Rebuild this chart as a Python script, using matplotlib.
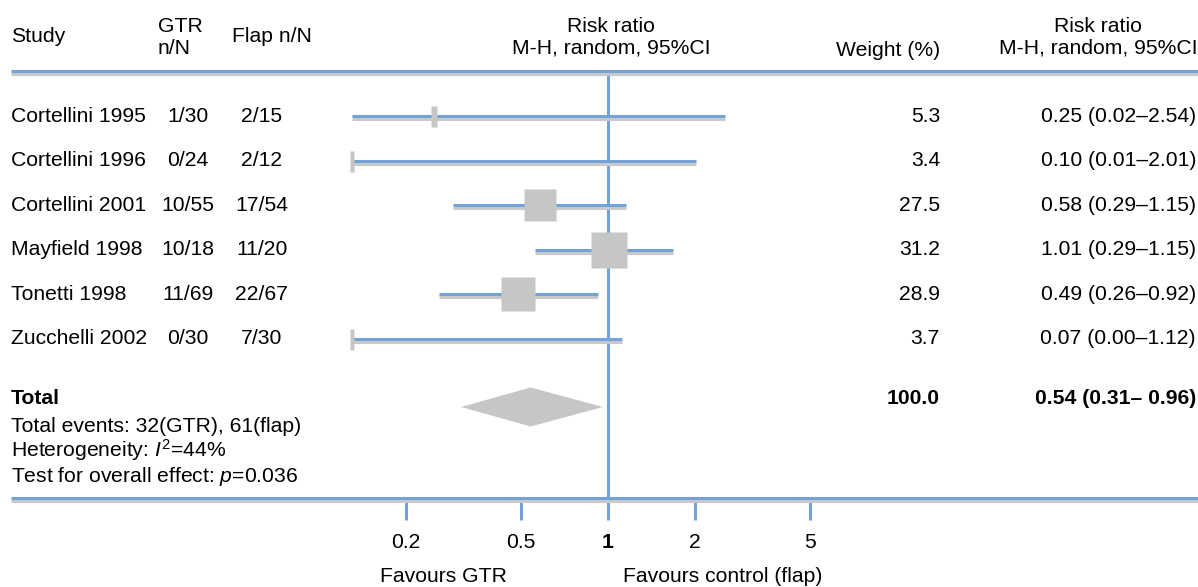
import numpy as np
import matplotlib
matplotlib.use("Agg")
import matplotlib.pyplot as plt
from matplotlib import transforms
from matplotlib.ticker import NullLocator

plt.rcParams['font.family'] = ['Liberation Sans', 'DejaVu Sans']
plt.rcParams['mathtext.fontset'] = 'custom'
plt.rcParams['mathtext.rm'] = 'Liberation Sans'
plt.rcParams['mathtext.it'] = 'Liberation Sans:italic'
plt.rcParams['mathtext.bf'] = 'Liberation Sans:bold'

# ---------------- data ----------------
studies = ["Cortellini 1995", "Cortellini 1996", "Cortellini 2001",
           "Mayfield 1998", "Tonetti 1998", "Zucchelli 2002"]
gtr_events = ["1/30", "0/24", "10/55", "10/18", "11/69", "0/30"]
flap_events = ["2/15", "2/12", "17/54", "11/20", "22/67", "7/30"]
risk_ratio = [0.25, 0.10, 0.58, 1.01, 0.49, 0.07]
ci_low = [0.02, 0.01, 0.29, 0.56, 0.26, 0.00]
ci_high = [2.54, 2.01, 1.15, 1.68, 0.92, 1.12]
weights = [5.3, 3.4, 27.5, 31.2, 28.9, 3.7]
rr_labels = ["0.25 (0.02\u20132.54)", "0.10 (0.01\u20132.01)", "0.58 (0.29\u20131.15)",
             "1.01 (0.29\u20131.15)", "0.49 (0.26\u20130.92)", "0.07 (0.00\u20131.12)"]
total_rr, total_low, total_high = 0.54, 0.31, 0.96
total_weight_label = "100.0"
total_rr_label = "0.54 (0.31\u2013 0.96)"
tick_values = [0.2, 0.5, 1, 2, 5]
tick_labels = ["0.2", "0.5", "1", "2", "5"]
display_min = 0.13   # lower CI clipped at plot edge

# ---------------- style / layout ----------------
W, H = 1198, 587
BLUE = "#72a2d8"
SHADOW = "#c9c9c9"
BOX = "#c5c6c6"
FS = 15.2
PX = 0.72  # points per pixel at 100 dpi
X_ONE = 608          # pixel position of RR = 1
PX_PER_DEC = 289     # pixels per decade
ROW0, ROW_STEP = 116, 44.6
TOP_RULE, BOT_RULE = 71, 498
TOTAL_Y, DIAMOND_Y = 398, 407

fig = plt.figure(figsize=(W / 100, H / 100), dpi=100)

ax = fig.add_axes([0, 0, 1, 1])
ax.set_xscale('log')
ax.set_xlim(10 ** (-X_ONE / PX_PER_DEC), 10 ** ((W - X_ONE) / PX_PER_DEC))
ax.set_ylim(H, 0)
ax.patch.set_visible(False)
for s in ['top', 'left', 'right', 'bottom']:
    ax.spines[s].set_visible(False)
ax.spines['bottom'].set_position(('data', BOT_RULE))
ax.set_yticks([])
ax.set_xticks(tick_values, tick_labels)
ax.xaxis.set_minor_locator(NullLocator())
ax.tick_params(axis='x', which='major', direction='out', length=22 * PX,
               width=2.2, color=BLUE, pad=9, labelsize=FS)
for lbl in ax.get_xticklabels():
    if lbl.get_text() == "1":
        lbl.set_fontweight('bold')

tx = fig.add_axes([0, 0, 1, 1])
tx.set_xlim(0, W)
tx.set_ylim(H, 0)
tx.axis('off')

shadow_ax = ax.transData + transforms.ScaledTranslation(0, -0.03, fig.dpi_scale_trans)
shadow_tx = tx.transData + transforms.ScaledTranslation(0, -0.03, fig.dpi_scale_trans)

# rules
for yy in (TOP_RULE, BOT_RULE):
    tx.plot([11, W], [yy, yy], color=SHADOW, lw=2.2, transform=shadow_tx,
            solid_capstyle='butt', zorder=1)
    tx.plot([11, W], [yy, yy], color=BLUE, lw=2.2, solid_capstyle='butt', zorder=2)

# line of no effect
ax.plot([1, 1], [TOP_RULE, BOT_RULE], color=BLUE, lw=2.2, solid_capstyle='butt', zorder=2)

# studies
for i in range(len(studies)):
    y = ROW0 + i * ROW_STEP
    lo = max(ci_low[i], display_min)
    hi = ci_high[i]
    ax.plot([lo, hi], [y, y], color=SHADOW, lw=2.2, transform=shadow_ax,
            solid_capstyle='butt', zorder=2)
    ax.plot([lo, hi], [y, y], color=BLUE, lw=2.2, solid_capstyle='butt', zorder=2.5)
    est = max(risk_ratio[i], display_min)
    w_px = 1.15 * weights[i]
    h_px = max(w_px, 21)
    hw, hh = w_px / 2, h_px / 2
    verts = [(-hw, -hh), (hw, -hh), (hw, hh), (-hw, hh), (-hw, -hh)]
    ax.plot([est], [y], marker=verts, ms=max(w_px, h_px) * PX, color=BOX,
            mec='none', zorder=3, linestyle='none')

    tx.text(11, y, studies[i], fontsize=FS, ha='left', va='center')
    tx.text(188, y, gtr_events[i], fontsize=FS, ha='center', va='center')
    tx.text(262, y, flap_events[i], fontsize=FS, ha='center', va='center')
    tx.text(940, y, f"{weights[i]:.1f}", fontsize=FS, ha='right', va='center')
    tx.text(1196, y, rr_labels[i], fontsize=FS, ha='right', va='center')

# pooled diamond
half_h = 19.5
ax.fill([total_low, total_rr, total_high, total_rr],
        [DIAMOND_Y, DIAMOND_Y - half_h, DIAMOND_Y, DIAMOND_Y + half_h],
        color=BOX, lw=0, zorder=3)

# headers
tx.text(11, 36, "Study", fontsize=FS, ha='left', va='center')
tx.text(158, 38, "GTR\nn/N", fontsize=FS, ha='left', va='center', linespacing=1.2)
tx.text(232, 36, "Flap n/N", fontsize=FS, ha='left', va='center')
tx.text(611, 37, "Risk ratio\nM-H, random, 95%CI", fontsize=FS, ha='center',
        va='center', multialignment='center', linespacing=1.2)
tx.text(940, 50, "Weight (%)", fontsize=FS, ha='right', va='center')
tx.text(1098, 37, "Risk ratio\nM-H, random, 95%CI", fontsize=FS, ha='center',
        va='center', multialignment='center', linespacing=1.2)

# totals
tx.text(11, TOTAL_Y, "Total", fontsize=FS, ha='left', va='center', fontweight='bold')
tx.text(940, TOTAL_Y, total_weight_label, fontsize=FS, ha='right', va='center',
        fontweight='bold')
tx.text(1196, TOTAL_Y, total_rr_label, fontsize=FS, ha='right', va='center',
        fontweight='bold')
tx.text(11, 426, "Total events: 32(GTR), 61(flap)", fontsize=FS, ha='left', va='center')
tx.text(11, 450, r"Heterogeneity: $\mathit{I}^{2}$=44%", fontsize=FS, ha='left', va='center')
tx.text(11, 476, r"Test for overall effect: $\mathit{p}$=0.036", fontsize=FS,
        ha='left', va='center')

# favours labels
tx.text(443, 577, "Favours GTR", fontsize=FS, ha='center', va='center')
tx.text(723, 577, "Favours control (flap)", fontsize=FS, ha='center', va='center')

fig.savefig("out.png", dpi=100)
